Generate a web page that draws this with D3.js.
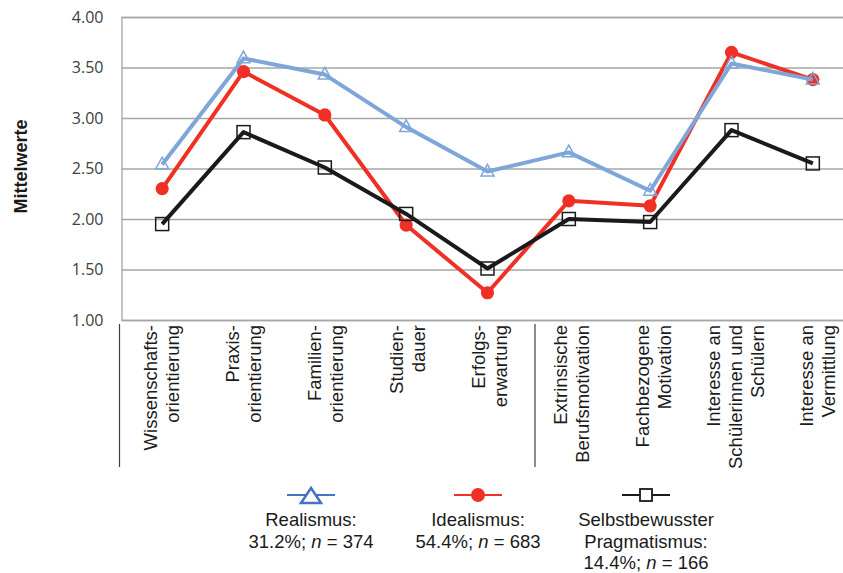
<!DOCTYPE html>
<html>
<head>
<meta charset="utf-8">
<script src="https://cdn.jsdelivr.net/npm/d3@7"></script>
<style>
  html, body { margin: 0; padding: 0; background: #fff; }
  svg { display: block; }
</style>
</head>
<body>
<svg id="chart" width="843" height="573"></svg>
<script>
const categories = [
  "Wissenschafts-|orientierung",
  "Praxis-|orientierung",
  "Familien-|orientierung",
  "Studien-|dauer",
  "Erfolgs-|erwartung",
  "Extrinsische|Berufsmotivation",
  "Fachbezogene|Motivation",
  "Interesse an|Schülerinnen und|Schülern",
  "Interesse an|Vermittlung"
];
const realismus   = [2.54, 3.59, 3.43, 2.91, 2.47, 2.66, 2.28, 3.54, 3.38];
const idealismus  = [2.30, 3.46, 3.03, 1.94, 1.27, 2.18, 2.13, 3.65, 3.38];
const pragmatismus = [1.95, 2.86, 2.51, 2.05, 1.51, 2.00, 1.97, 2.88, 2.55];
const yTicks = [1.00, 1.50, 2.00, 2.50, 3.00, 3.50, 4.00];
const yTitle = "Mittelwerte";
const legendLabels = [
  ["Realismus:", "31.2%; |n| = 374"],
  ["Idealismus:", "54.4%; |n| = 683"],
  ["Selbstbewusster", "Pragmatismus:", "14.4%; |n| = 166"]
];

const svg = d3.select("#chart");
const plotLeft = 121.5, plotRight = 853.5, plotTop = 17, plotBottom = 320;

const x = d3.scaleBand().domain(categories).range([plotLeft, plotRight]).padding(0);
const cx = c => x(c) + x.bandwidth() / 2;
const xl = d3.scaleBand().domain(categories).range([122, 860]).padding(0);
const lx = c => xl(c) + xl.bandwidth() / 2;
const y = d3.scaleLinear().domain([1, 4]).range([plotBottom, plotTop]);

// gridlines
const yAxis = d3.axisLeft(y).tickValues(yTicks).tickFormat(d3.format(".2f"))
  .tickSize(-(plotRight - plotLeft)).tickPadding(18);
const gy = svg.append("g").attr("transform", `translate(${plotLeft},0)`).call(yAxis);
gy.select(".domain").attr("stroke", "#a6a6a6").attr("stroke-width", 1.3);
gy.selectAll(".tick line").attr("stroke", "#a6a6a6").attr("stroke-width", 1.3);
gy.selectAll(".tick text")
  .attr("font-family", "'Open Sans', sans-serif")
  .attr("font-size", 16)
  .attr("fill", "#404040");

// y title
svg.append("text")
  .attr("transform", `translate(27,${(plotTop + plotBottom) / 2 - 2}) rotate(-90)`)
  .attr("text-anchor", "middle")
  .attr("font-family", "'Liberation Sans', Arial, sans-serif")
  .attr("font-weight", "bold")
  .attr("font-size", 18)
  .attr("fill", "#1a1a1a")
  .text(yTitle);

// category separators below axis
const sepX = [xl(categories[0]) - 2.5, xl(categories[5]) + 3];
svg.selectAll("line.sep").data(sepX).enter().append("line")
  .attr("class", "sep")
  .attr("x1", d => d).attr("x2", d => d)
  .attr("y1", 324).attr("y2", 467)
  .attr("stroke", "#404040").attr("stroke-width", 1.2);

// category labels
const lh = 22;
categories.forEach(c => {
  const lines = c.split("|");
  const n = lines.length;
  const base0 = lx(c) - (n - 1) * lh / 2 + 4.5;
  const t = svg.append("text")
    .attr("transform", `translate(${base0},325) rotate(-90)`)
    .attr("text-anchor", "end")
    .attr("font-family", "'Liberation Sans', Arial, sans-serif")
    .attr("font-size", 18.5)
    .attr("fill", "#1a1a1a");
  lines.forEach((ln, i) => {
    t.append("tspan").attr("x", 0).attr("y", i * lh).text(ln);
  });
});

// series
const series = [
  { key: "ideal", values: idealismus, color: "#ee3124", marker: "circle" },
  { key: "prag", values: pragmatismus, color: "#1a1a1a", marker: "square" },
  { key: "real", values: realismus, color: "#7ea6d8", marker: "triangle" }
];
const line = d3.line().x((d, i) => cx(categories[i])).y(d => y(d));

const triPath = (s) => {
  const h = s * 0.9;
  return `M0,${-h * 0.62}L${s / 2},${h * 0.38}L${-s / 2},${h * 0.38}Z`;
};

series.forEach(s => {
  const g = svg.append("g");
  g.append("path").datum(s.values)
    .attr("d", line)
    .attr("fill", "none")
    .attr("stroke", s.color)
    .attr("stroke-width", 4)
    .attr("stroke-linejoin", "round");
  const pts = g.selectAll("g.pt").data(s.values).enter().append("g")
    .attr("transform", (d, i) => `translate(${cx(categories[i])},${y(d)})`);
  if (s.marker === "circle") {
    pts.append("circle").attr("r", 6.6).attr("fill", s.color);
  } else if (s.marker === "square") {
    pts.append("rect").attr("x", -6.5).attr("y", -6.5).attr("width", 13).attr("height", 13)
      .attr("fill", "none").attr("stroke", s.color).attr("stroke-width", 1.5);
  } else {
    pts.append("path").attr("d", triPath(13)).attr("fill", "none")
      .attr("stroke", s.color).attr("stroke-width", 1.5);
  }
});

// legend
const legendX = [311, 478, 646];
const legendStyles = [
  { color: "#4472c4", marker: "triangle" },
  { color: "#ee3124", marker: "circle" },
  { color: "#1a1a1a", marker: "square" }
];
legendLabels.forEach((lines, k) => {
  const g = svg.append("g").attr("transform", `translate(${legendX[k]},0)`);
  const st = legendStyles[k];
  g.append("line").attr("x1", -24).attr("x2", 24).attr("y1", 495).attr("y2", 495)
    .attr("stroke", st.color).attr("stroke-width", 2);
  if (st.marker === "triangle") {
    g.append("path").attr("transform", "translate(0,497)")
      .attr("d", "M0,-9L10,6L-10,6Z")
      .attr("fill", "#fff").attr("stroke", st.color).attr("stroke-width", 2.5);
  } else if (st.marker === "circle") {
    g.append("circle").attr("cx", 0).attr("cy", 495).attr("r", 7).attr("fill", st.color);
  } else {
    g.append("rect").attr("x", -6).attr("y", 489).attr("width", 12).attr("height", 12)
      .attr("fill", "#fff").attr("stroke", st.color).attr("stroke-width", 1.8);
  }
  lines.forEach((ln, i) => {
    const t = g.append("text")
      .attr("x", 0).attr("y", 526 + i * 21.5)
      .attr("text-anchor", "middle")
      .attr("font-family", "'Liberation Sans', Arial, sans-serif")
      .attr("font-size", 18.5)
      .attr("fill", "#1a1a1a");
    ln.split("|").forEach((part, j) => {
      const sp = t.append("tspan").text(part);
      if (j === 1) sp.attr("font-style", "italic");
    });
  });
});
</script>
</body>
</html>
